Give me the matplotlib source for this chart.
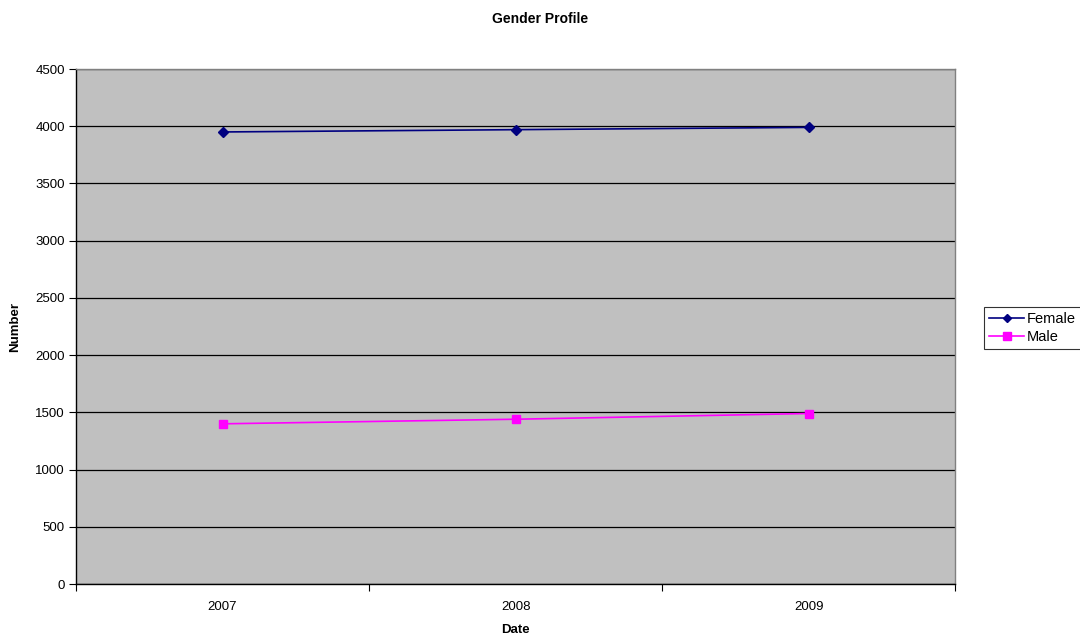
import matplotlib
matplotlib.use('Agg')
import matplotlib.pyplot as plt

plt.rcParams['font.family'] = ['Liberation Sans', 'DejaVu Sans']

years = ['2007', '2008', '2009']
female = [3950, 3970, 3990]
male = [1400, 1440, 1490]

fig = plt.figure(figsize=(10.8, 6.39), dpi=100)
ax = fig.add_axes([0.0704, 0.086, 0.814, 0.806])
ax.set_facecolor('#C0C0C0')

x = range(len(years))
ax.plot(x, female, color='#000080', marker='D', markersize=5, lw=1.2, label='Female')
ax.plot(x, male, color='#FF00FF', marker='s', markersize=6, lw=1.2, label='Male')

ax.set_xlim(-0.5, 2.5)
ax.set_ylim(0, 4500)
ax.set_yticks(range(0, 4501, 500))
ax.yaxis.grid(True, color='black', lw=0.9)
ax.set_axisbelow(True)

ax.set_xticks([-0.5, 0.5, 1.5, 2.5])
ax.set_xticklabels([])
ax.set_xticks(list(x), minor=True)
ax.set_xticklabels(years, minor=True)
ax.tick_params(axis='x', which='minor', length=0, pad=12, labelsize=9.5)
ax.tick_params(axis='x', which='major', length=5, direction='out', color='black')
ax.tick_params(axis='y', length=5, direction='out', labelsize=9.5, pad=3)

for s in ['left', 'bottom']:
    ax.spines[s].set_color('black')
    ax.spines[s].set_linewidth(1)
for s in ['top', 'right']:
    ax.spines[s].set_color('#808080')
    ax.spines[s].set_linewidth(1)

ax.set_xlabel('Date', fontsize=9.5, fontweight='bold', labelpad=8)
ax.set_ylabel('Number', fontsize=9.5, fontweight='bold', labelpad=10)
fig.suptitle('Gender Profile', x=0.5, y=0.982, fontsize=10, fontweight='bold')

leg = ax.legend(loc='center left', bbox_to_anchor=(1.033, 0.497), frameon=True,
                fancybox=False, edgecolor='black', fontsize=10.5,
                handlelength=2.4, handletextpad=0.15, borderpad=0.35,
                labelspacing=0.3, borderaxespad=0, markerscale=0.9)
leg.get_frame().set_linewidth(0.8)

fig.savefig('out.png', dpi=100, facecolor='white')
